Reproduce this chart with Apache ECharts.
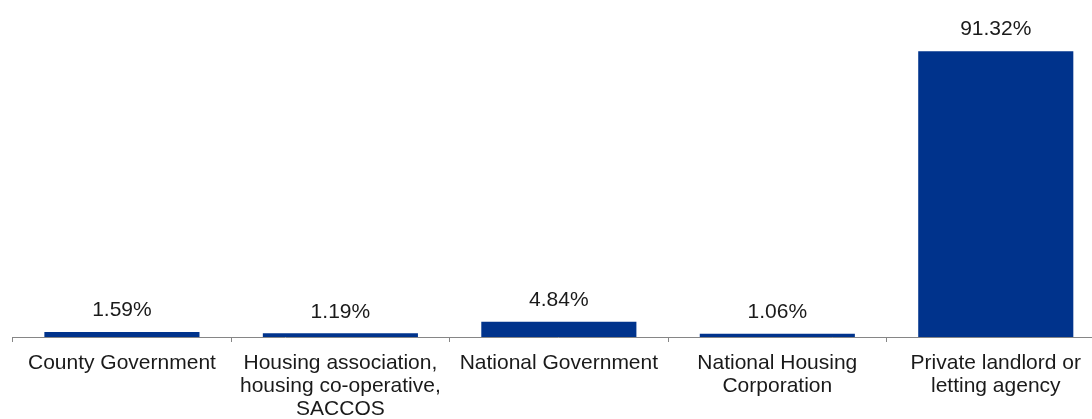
<!DOCTYPE html>
<html>
<head>
<meta charset="utf-8">
<script src="https://cdn.jsdelivr.net/npm/echarts@6/dist/echarts.min.js"></script>
<style>
  html, body { margin: 0; padding: 0; background: #fff; overflow: hidden; }
  #chart { width: 1105px; height: 419px; }
</style>
</head>
<body>
<div id="chart"></div>
<script>
// Share of rented dwellings by landlord type (%)
const categories = [
  'County Government',
  'Housing association,\nhousing co-operative,\nSACCOS',
  'National Government',
  'National Housing\nCorporation',
  'Private landlord or\nletting agency'
];
const shares = [1.59, 1.19, 4.84, 1.06, 91.32];

const chart = echarts.init(document.getElementById('chart'), null, { renderer: 'canvas' });
chart.setOption({
  animation: false,
  grid: {
    left: 12.7, right: 0, top: 24, bottom: 82,
    containLabel: false,
    outerBoundsMode: 'none'
  },
  xAxis: {
    type: 'category',
    data: categories,
    axisLine: { lineStyle: { color: '#868686', width: 1 } },
    axisTick: { show: true, length: 5, lineStyle: { color: '#868686' } },
    axisLabel: {
      interval: 0,
      margin: 15,
      fontFamily: 'Liberation Sans, Arial, sans-serif',
      fontSize: 21,
      lineHeight: 23,
      color: '#1a1a1a'
    }
  },
  yAxis: {
    type: 'value',
    min: 0,
    max: 100,
    show: false,
    splitLine: { show: false }
  },
  series: [{
    type: 'bar',
    data: shares,
    barCategoryGap: '29%',
    itemStyle: { color: '#00338c' },
    label: {
      show: true,
      position: 'top',
      distance: 11,
      formatter: p => p.value.toFixed(2) + '%',
      fontFamily: 'Liberation Sans, Arial, sans-serif',
      fontSize: 21,
      color: '#1a1a1a'
    }
  }]
});
</script>
</body>
</html>
